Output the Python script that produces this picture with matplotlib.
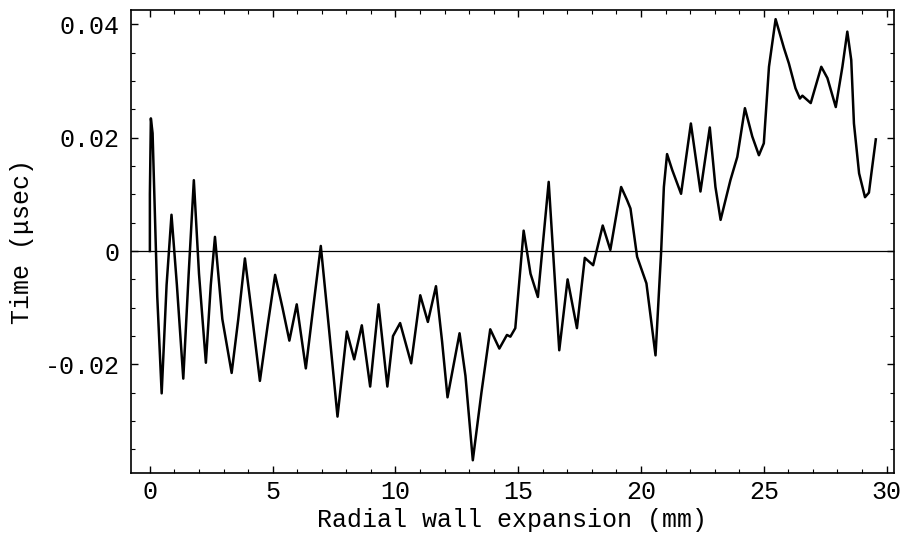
import numpy as np
import matplotlib
matplotlib.use("Agg")
import matplotlib.pyplot as plt
from matplotlib.ticker import MultipleLocator

# values
expansion = [0.0, 0.0, 0.04, 0.11, 0.3, 0.48, 0.68, 0.88, 1.1, 1.36, 1.58, 1.79, 2.0, 2.28,
             2.48, 2.65, 2.95, 3.33, 3.6, 3.87, 4.15, 4.48, 4.8, 5.1, 5.4, 5.68, 5.98,
             6.35, 6.65, 6.96, 7.3, 7.64, 8.02, 8.32, 8.63, 8.97, 9.31, 9.67, 9.9,
             10.19, 10.64, 11.01, 11.32, 11.65, 11.9, 12.12, 12.61, 12.85, 13.15, 13.5,
             13.86, 14.23, 14.54, 14.68, 14.88, 15.22, 15.5, 15.8, 16.24, 16.67, 17.01,
             17.39, 17.71, 18.05, 18.44, 18.75, 19.19, 19.43, 19.57, 19.84, 20.22,
             20.41, 20.59, 20.82, 20.93, 21.06, 21.27, 21.63, 22.03, 22.42, 22.8, 23.03,
             23.24, 23.64, 23.92, 24.23, 24.53, 24.8, 25.0, 25.21, 25.48, 25.82, 26.02,
             26.29, 26.47, 26.57, 26.91, 27.34, 27.59, 27.93, 28.2, 28.4, 28.56, 28.67,
             28.88, 29.12, 29.28, 29.38, 29.56]
time_us = [0.0, 0.010, 0.0234, 0.0208, -0.008, -0.0251, -0.006, 0.0064, -0.006, -0.0225,
           -0.004, 0.0125, -0.004, -0.0197, -0.006, 0.0025, -0.012, -0.0215, -0.012,
           -0.0013, -0.011, -0.0229, -0.013, -0.0042, -0.010, -0.0158, -0.0094, -0.0207,
           -0.010, 0.0009, -0.014, -0.0292, -0.0142, -0.0191, -0.0131, -0.0239, -0.0094,
           -0.0239, -0.015, -0.0127, -0.0198, -0.0078, -0.0125, -0.0062, -0.016, -0.0258,
           -0.0145, -0.022, -0.0369, -0.025, -0.0138, -0.0172, -0.0148, -0.0151, -0.0136,
           0.0036, -0.004, -0.0081, 0.0122, -0.0175, -0.0050, -0.0136, -0.0012, -0.0025,
           0.0045, 0.0002, 0.0113, 0.0090, 0.0075, -0.0010, -0.0057, -0.0122, -0.0184,
           0.0, 0.0113, 0.0171, 0.0143, 0.0101, 0.0225, 0.0105, 0.0218, 0.0113, 0.0055,
           0.0125, 0.0166, 0.0252, 0.0202, 0.0169, 0.0190, 0.0325, 0.0409, 0.0358, 0.0331,
           0.0287, 0.0269, 0.0274, 0.0261, 0.0325, 0.0305, 0.0254, 0.0325, 0.0387, 0.0337,
           0.0225, 0.0137, 0.0095, 0.0103, 0.0137, 0.0197]

x_ticks = [0, 5, 10, 15, 20, 25, 30]
y_ticks = [-0.02, 0, 0.02, 0.04]
y_ticklabels = ['-0.02', '0', '0.02', '0.04']

plt.rcParams['font.family'] = ['Liberation Mono', 'DejaVu Sans Mono']
fs = 18

fig = plt.figure(figsize=(9.02, 5.35), dpi=100)
ax = fig.add_axes([0.1452, 0.1164, 0.8459, 0.8658])

ax.axhline(0, color='black', lw=0.9)
ax.plot(expansion, time_us, color='black', lw=1.8, solid_joinstyle='round')

ax.set_xlim(-0.77, 30.3)
ax.set_ylim(-0.0391, 0.0426)
ax.set_xticks(x_ticks)
ax.set_yticks(y_ticks)
ax.set_yticklabels(y_ticklabels)
ax.xaxis.set_minor_locator(MultipleLocator(1))
ax.yaxis.set_minor_locator(MultipleLocator(0.005))
ax.tick_params(which='both', direction='in', top=True, right=True, labelsize=fs)
ax.tick_params(which='major', length=5, width=1)
ax.tick_params(which='minor', length=3, width=0.8)
ax.tick_params(axis='x', pad=5)
ax.tick_params(axis='y', pad=8)
for s in ax.spines.values():
    s.set_linewidth(1.2)

ax.set_xlabel('Radial wall expansion (mm)', fontsize=fs, labelpad=3)
ax.set_ylabel('Time (μsec)', fontsize=fs, labelpad=8)

fig.savefig('out.png', dpi=100)
